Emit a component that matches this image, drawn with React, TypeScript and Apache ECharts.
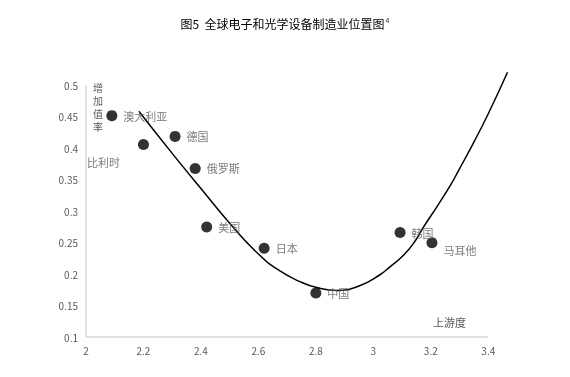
import React, { useEffect, useRef } from "react";
import * as echarts from "echarts";

const countries = ["澳大利亚", "比利时", "德国", "俄罗斯", "美国", "日本", "中国", "韩国", "马耳他"];
const upstreamness = [2.09, 2.2, 2.31, 2.38, 2.42, 2.62, 2.8, 3.093, 3.204];
const valueAddedRate = [0.452, 0.406, 0.419, 0.368, 0.275, 0.241, 0.17, 0.266, 0.25];

const curveX = [2.184, 2.3, 2.4, 2.5, 2.6, 2.675, 2.745, 2.8, 2.875, 2.95, 3.023, 3.059, 3.105, 3.14, 3.175, 3.221, 3.268, 3.297, 3.35, 3.4, 3.467];
const curveY = [0.459, 0.392, 0.336, 0.281, 0.232, 0.205, 0.188, 0.179, 0.174, 0.181, 0.199, 0.212, 0.23, 0.249, 0.275, 0.307, 0.341, 0.365, 0.41, 0.455, 0.521];

const xTicks = ["2", "2.2", "2.4", "2.6", "2.8", "3", "3.2", "3.4"];
const yTicks = ["0.1", "0.15", "0.2", "0.25", "0.3", "0.35", "0.4", "0.45", "0.5"];
const yNameChars = ["增", "加", "值", "率"];

const FONT = "'Noto Sans CJK SC', 'Noto Sans', sans-serif";
const GRAY = "#595959";
const AXIS = "#d9d9d9";

export default function App() {
  const ref = useRef<HTMLDivElement>(null);
  useEffect(() => {
    if (!ref.current) return;
    const chart = echarts.init(ref.current, undefined, { renderer: "svg" });
    const scatterData = countries.map((name, i) => {
      const item: any = { name, value: [upstreamness[i], valueAddedRate[i]] };
      if (name === "比利时") {
        item.label = { position: "bottom", offset: [-40, 0] };
      } else if (name === "马耳他") {
        item.label = { position: "right", offset: [0, 7] };
      }
      return item;
    });
    chart.setOption({
      animation: false,
      textStyle: { fontFamily: FONT },
      title: {
        text: "图5  全球电子和光学设备制造业位置图{s|4}",
        left: "center",
        top: 11,
        textStyle: {
          fontFamily: FONT,
          fontSize: 12,
          fontWeight: "normal",
          color: "#000",
          rich: { s: { fontSize: 7, verticalAlign: "top", color: "#333", padding: [0, 0, 7, 1] } },
        },
      },
      grid: { left: 86, right: 53, top: 54, bottom: 40 },
      xAxis: {
        type: "value",
        min: 2,
        max: 3.5,
        interval: 0.1,
        axisLine: { show: false },
        axisTick: { show: false },
        splitLine: { show: false },
        axisLabel: {
          color: GRAY,
          fontSize: 10,
          margin: 8,
          formatter: (v: number) => {
            const k = Math.round((v - 2) * 10);
            return k % 2 === 0 ? xTicks[k / 2] ?? "" : "";
          },
        },
      },
      yAxis: {
        type: "value",
        min: 0.1,
        max: 0.55,
        interval: 0.05,
        axisLine: { show: false },
        axisTick: { show: false },
        splitLine: { show: false },
        axisLabel: {
          color: GRAY,
          fontSize: 10,
          margin: 8,
          formatter: (v: number) => {
            const idx = Math.round((v - 0.1) / 0.05);
            return yTicks[idx] ?? "";
          },
        },
      },
      graphic: [
        ...yNameChars.map((c, i) => ({
          type: "text",
          left: 93,
          top: 82 + i * 13,
          style: { text: c, fill: GRAY, font: `10px ${FONT}` },
        })),
        {
          type: "text",
          left: 433,
          top: 316,
          style: { text: "上游度", fill: GRAY, font: `11px ${FONT}` },
        },
      ],
      series: [
        {
          type: "line",
          data: curveX.map((x, i) => [x, curveY[i]]),
          smooth: 0.5,
          showSymbol: false,
          lineStyle: { color: "#000", width: 1.5 },
          z: 1,
          markLine: {
            silent: true,
            symbol: "none",
            label: { show: false },
            lineStyle: { color: AXIS, width: 1.5, type: "solid" },
            data: [
              [{ coord: [2, 0.1] }, { coord: [3.4, 0.1] }],
              [{ coord: [2, 0.1] }, { coord: [2, 0.5] }],
            ],
          },
        },
        {
          type: "scatter",
          data: scatterData,
          symbolSize: 11,
          itemStyle: { color: "#000" },
          label: {
            show: true,
            position: "right",
            distance: 6,
            formatter: "{b}",
            color: GRAY,
            fontSize: 11,
            fontFamily: FONT,
          },
          z: 2,
        },
      ],
    });
    return () => chart.dispose();
  }, []);
  return <div ref={ref} style={{ position: "fixed", left: 0, top: 0, width: 570, height: 377 }} />;
}
